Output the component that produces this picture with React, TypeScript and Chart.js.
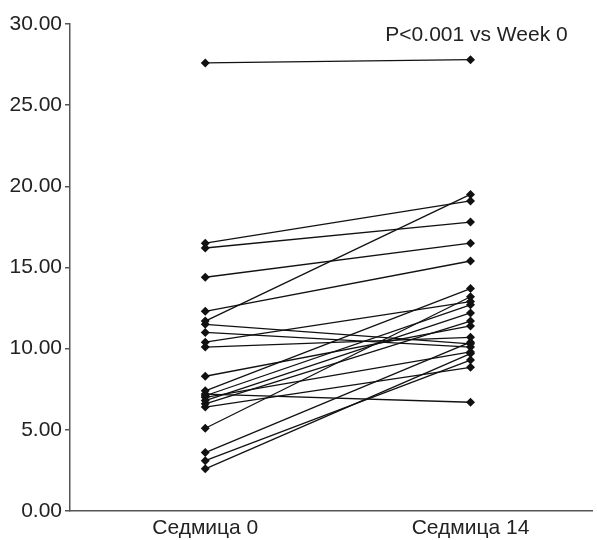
import React, { useEffect, useRef } from "react";
import { Chart, registerables } from "chart.js";

Chart.register(...registerables);

const categories = ["Седмица 0", "Седмица 14"];
const week0 = [27.6, 16.5, 16.2, 14.4, 12.3, 11.7, 11.5, 11.0, 10.4, 10.1, 8.3, 7.4, 7.2, 7.0, 7.1, 6.8, 6.6, 6.4, 5.1, 3.6, 3.1, 2.6];
const week14 = [27.8, 19.1, 17.8, 16.5, 15.4, 19.5, 10.3, 10.1, 12.9, 10.7, 11.4, 13.7, 6.7, 9.8, 12.7, 12.2, 11.7, 8.85, 13.2, 10.4, 9.3, 9.7];
const yTicks = [0, 5, 10, 15, 20, 25, 30];
const annotation = "P<0.001 vs Week 0";

const FONT = "'Liberation Sans', Arial, sans-serif";

export default function App() {
  const ref = useRef<HTMLCanvasElement>(null);
  useEffect(() => {
    if (!ref.current) return;
    const datasets = week0.map((v, i) => ({
      label: "S" + (i + 1),
      data: [
        { x: 0, y: v },
        { x: 1, y: week14[i] },
      ],
      borderColor: "#111",
      backgroundColor: "#111",
      borderWidth: 1.3,
      pointStyle: "rectRot" as const,
      pointRadius: 4.5,
      pointBorderWidth: 0,
      showLine: true,
    }));
    const textPlugin = {
      id: "annot",
      afterDatasetsDraw(chart: any) {
        const { ctx, scales } = chart;
        ctx.save();
        ctx.font = `21px ${FONT}`;
        ctx.fillStyle = "#222";
        ctx.textAlign = "center";
        ctx.textBaseline = "middle";
        ctx.fillText(annotation, scales.x.getPixelForValue(1) + 6, scales.y.getPixelForValue(29.3));
        ctx.restore();
      },
    };
    const chart = new Chart(ref.current, {
      type: "scatter",
      data: { datasets },
      options: {
        animation: false,
        responsive: false,
        maintainAspectRatio: false,
        layout: { padding: { top: 24, right: 0, left: 0, bottom: 0 } },
        plugins: { legend: { display: false }, tooltip: { enabled: false } },
        scales: {
          x: {
            type: "linear",
            min: -0.51,
            max: 1.46,
            afterBuildTicks: (s: any) => {
              s.ticks = categories.map((_, i) => ({ value: i }));
            },
            afterFit: (s: any) => {
              s.height = 29;
            },
            grid: { display: false, drawTicks: false },
            border: { display: true, color: "#555", width: 1.5 },
            ticks: {
              color: "#222",
              font: { family: FONT, size: 21 },
              padding: 5,
              maxRotation: 0,
              callback: (v: any) => categories[v as number] ?? "",
            },
          },
          y: {
            min: 0,
            max: 30,
            afterBuildTicks: (s: any) => {
              s.ticks = yTicks.map((v) => ({ value: v }));
            },
            afterFit: (s: any) => {
              s.width = 70;
            },
            grid: { display: true, drawOnChartArea: false, drawTicks: true, tickLength: 5, color: "#555", lineWidth: 1.5 },
            border: { display: true, color: "#555", width: 1.5 },
            ticks: {
              color: "#222",
              font: { family: FONT, size: 21 },
              padding: 3,
              callback: (v: any) => Number(v).toFixed(2),
            },
          },
        },
      },
      plugins: [textPlugin],
    });
    return () => chart.destroy();
  }, []);
  return (
    <div style={{ position: "fixed", left: 0, top: 0, width: 597, height: 540, background: "#fff" }}>
      <canvas ref={ref} width={597} height={540} style={{ width: 597, height: 540 }} />
    </div>
  );
}
